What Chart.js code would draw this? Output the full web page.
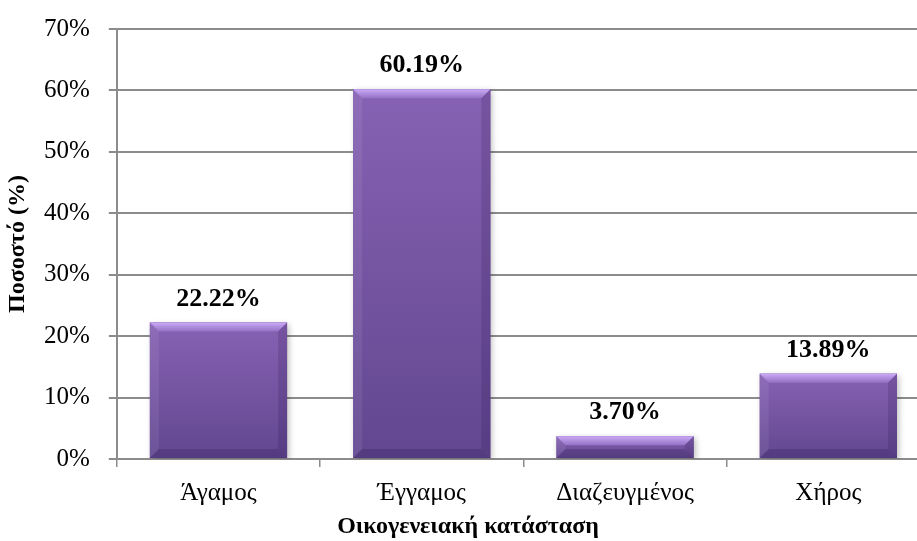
<!DOCTYPE html>
<html>
<head>
<meta charset="utf-8">
<script src="https://cdn.jsdelivr.net/npm/chart.js@4/dist/chart.umd.min.js"></script>
<style>
  html, body { margin: 0; padding: 0; background: #fff; overflow: hidden; }
  #wrap { width: 930px; height: 541px; position: relative; }
</style>
</head>
<body>
<div id="wrap"><canvas id="chart"></canvas></div>
<script>
var categories = ['Άγαμος', 'Έγγαμος', 'Διαζευγμένος', 'Χήρος'];
var percents = [22.22, 60.19, 3.70, 13.89];
var yTicks = [0, 10, 20, 30, 40, 50, 60, 70];
var xTitle = 'Οικογενειακή κατάσταση';
var yTitle = 'Ποσοστό (%)';

var serif = "'Liberation Serif', 'Times New Roman', serif";
var gridGray = '#8c8c8c';

// bar shading: per-bar gradient, bevelled edges and a soft drop shadow
var bevelPlugin = {
  id: 'bevel',
  beforeDatasetsDraw: function (chart) {
    var ctx = chart.ctx;
    ctx.save();
    ctx.shadowColor = 'rgba(0,0,0,0.25)';
    ctx.shadowBlur = 6;
    ctx.shadowOffsetX = 2;
    ctx.shadowOffsetY = 2;
  },
  afterDatasetsDraw: function (chart) {
    var ctx = chart.ctx;
    ctx.restore();
    var meta = chart.getDatasetMeta(0);
    meta.data.forEach(function (bar) {
      var l = bar.x - bar.width / 2, r = bar.x + bar.width / 2;
      var t = bar.y, b = bar.base;
      var e = Math.min(9, (b - t) / 2);
      ctx.save();
      var body = ctx.createLinearGradient(0, t, 0, b);
      body.addColorStop(0, '#8762b4');
      body.addColorStop(1, '#624790');
      ctx.fillStyle = body;
      ctx.fillRect(l, t, r - l, b - t);
      // top edge
      var gt = ctx.createLinearGradient(0, t, 0, t + e);
      gt.addColorStop(0, '#cbaaf7');
      gt.addColorStop(1, '#9371c4');
      ctx.fillStyle = gt;
      ctx.beginPath();
      ctx.moveTo(l, t); ctx.lineTo(r, t); ctx.lineTo(r - e, t + e); ctx.lineTo(l + e, t + e);
      ctx.closePath(); ctx.fill();
      // left edge
      ctx.fillStyle = 'rgba(255,255,255,0.07)';
      ctx.beginPath();
      ctx.moveTo(l, t); ctx.lineTo(l + e, t + e); ctx.lineTo(l + e, b - e); ctx.lineTo(l, b);
      ctx.closePath(); ctx.fill();
      // right edge
      ctx.fillStyle = 'rgba(30,10,60,0.16)';
      ctx.beginPath();
      ctx.moveTo(r, t); ctx.lineTo(r - e, t + e); ctx.lineTo(r - e, b - e); ctx.lineTo(r, b);
      ctx.closePath(); ctx.fill();
      // bottom edge
      ctx.fillStyle = 'rgba(30,10,60,0.2)';
      ctx.beginPath();
      ctx.moveTo(l, b); ctx.lineTo(l + e, b - e); ctx.lineTo(r - e, b - e); ctx.lineTo(r, b);
      ctx.closePath(); ctx.fill();
      ctx.restore();
    });
  }
};

// value labels above bars and both axis titles
var labelPlugin = {
  id: 'labels',
  afterDraw: function (chart) {
    var ctx = chart.ctx;
    var area = chart.chartArea;
    var meta = chart.getDatasetMeta(0);
    ctx.save();
    ctx.fillStyle = '#000';
    ctx.font = 'bold 26px ' + serif;
    ctx.textAlign = 'center';
    ctx.textBaseline = 'alphabetic';
    meta.data.forEach(function (bar, i) {
      ctx.fillText(percents[i].toFixed(2) + '%', bar.x, bar.y - 17);
    });
    ctx.font = 'bold 24px ' + serif;
    ctx.textBaseline = 'middle';
    ctx.fillText(xTitle, 468, 527);
    ctx.translate(18, (area.top + area.bottom) / 2);
    ctx.rotate(-Math.PI / 2);
    ctx.fillText(yTitle, 0, 0);
    ctx.restore();
  }
};

new Chart(document.getElementById('chart'), {
  type: 'bar',
  data: {
    labels: categories,
    datasets: [{
      data: percents,
      backgroundColor: '#74539f',
      borderWidth: 0,
      categoryPercentage: 1,
      barPercentage: 0.675
    }]
  },
  options: {
    responsive: true,
    maintainAspectRatio: false,
    animation: false,
    layout: { padding: { top: 4, left: 25, right: 0, bottom: 22 } },
    plugins: {
      legend: { display: false },
      tooltip: { enabled: false }
    },
    scales: {
      x: {
        grid: { drawOnChartArea: false, drawTicks: true, tickLength: 8, color: gridGray, lineWidth: 1.5 },
        border: { color: gridGray, width: 2 },
        ticks: { color: '#000', font: { family: serif, size: 25 }, padding: 11 }
      },
      y: {
        min: 0,
        max: 70,
        afterBuildTicks: function (scale) {
          scale.ticks = yTicks.map(function (v) { return { value: v }; });
        },
        grid: { color: gridGray, lineWidth: 2, tickLength: 8 },
        border: { color: gridGray, width: 2 },
        ticks: {
          color: '#000',
          font: { family: serif, size: 25, lineHeight: 0.8 },
          padding: 19,
          callback: function (v) { return v + '%'; }
        }
      }
    }
  },
  plugins: [bevelPlugin, labelPlugin]
});
</script>
</body>
</html>
